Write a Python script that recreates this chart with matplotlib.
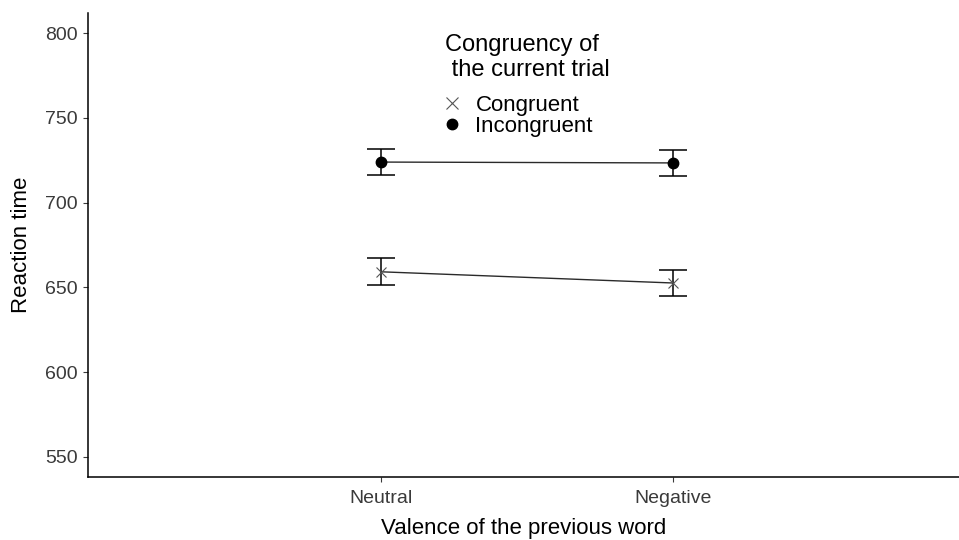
import matplotlib
matplotlib.use("Agg")
import matplotlib.pyplot as plt
from matplotlib.lines import Line2D

plt.rcParams['font.family'] = ['Liberation Sans', 'DejaVu Sans']

categories = ["Neutral", "Negative"]
congruent = [659.2, 652.6]
congruent_err = [7.9, 7.7]
incongruent = [723.9, 723.4]
incongruent_err = [7.9, 7.8]
yticks = [550, 600, 650, 700, 750, 800]

fig = plt.figure(figsize=(9.59, 5.4), dpi=100)
ax = fig.add_axes([88/959, 1-477/540, 1-88/959, (477-13)/540])
x = [1, 2]

for vals, errs, mk in [(congruent, congruent_err, "x"),
                       (incongruent, incongruent_err, "o")]:
    ax.plot(x, vals, color="#2a2a2a", lw=1.0, zorder=2)
    ax.errorbar(x, vals, yerr=errs, fmt="none", ecolor="black", elinewidth=1.1,
                capsize=10.4, capthick=1.1, zorder=3)
    if mk == "x":
        ax.plot(x, vals, ls="none", marker="x", ms=7.5, mew=0.8, color="#555555", zorder=4)
    else:
        ax.plot(x, vals, ls="none", marker="o", ms=7.5, color="black", zorder=4)

ax.set_xlim(-0.0034, 2.98)
ax.set_ylim(538.2, 811.8)
ax.set_xticks(x)
ax.set_xticklabels(categories)
ax.set_yticks(yticks)
for s in ["top", "right"]:
    ax.spines[s].set_visible(False)
for s in ["left", "bottom"]:
    ax.spines[s].set_linewidth(1.1)
ax.tick_params(axis="both", labelsize=14, colors="#3a3a3a", length=3.5, width=0.8)
ax.tick_params(axis="y", pad=4)
ax.tick_params(axis="x", pad=6)
ax.set_xlabel("Valence of the previous word", fontsize=16, labelpad=8)
ax.set_ylabel("Reaction time", fontsize=16, labelpad=9)

fig.text(445/959, 1-51/540, "Congruency of", fontsize=17, ha="left", va="baseline")
fig.text(445/959, 1-76/540, " the current trial", fontsize=17, ha="left", va="baseline")

handles = [Line2D([], [], ls="none", marker="x", ms=8, mew=0.8, color="#555555"),
           Line2D([], [], ls="none", marker="o", ms=7.5, color="black")]
leg = fig.legend(handles, ["Congruent", "Incongruent"],
                 loc="upper left", bbox_to_anchor=(441/959, 1-95/540),
                 frameon=False, fontsize=16, handletextpad=0.55, labelspacing=0.0,
                 handlelength=1.0, borderpad=0, borderaxespad=0)

fig.savefig("out.png", dpi=100)
